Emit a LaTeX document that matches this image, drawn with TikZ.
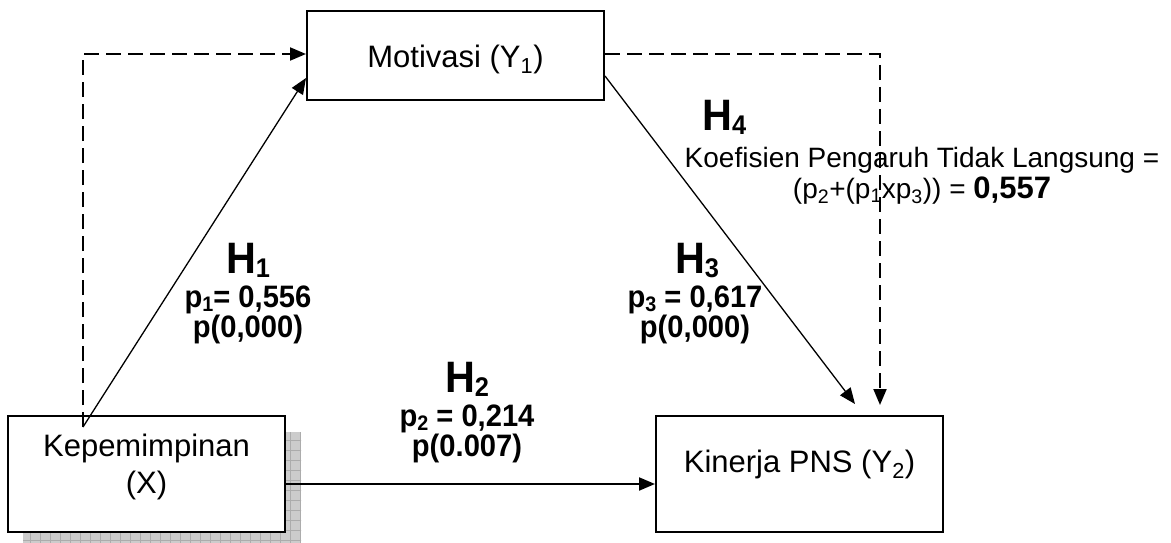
\documentclass[tikz,border=0pt]{standalone}
\usepackage{fontspec}
\usepackage{graphicx}
\setmainfont{Liberation Sans}
\usetikzlibrary{arrows.meta}
\newcommand{\condtxt}[1]{\scalebox{0.94}[1]{#1}}
\newcommand{\hsubx}[1]{\raisebox{-4pt}{\fontsize{27}{27}\selectfont #1}}
\newcommand{\psubx}[1]{\raisebox{-4pt}{\fontsize{21}{21}\selectfont #1}}
\begin{document}
\begin{tikzpicture}[x=1pt,y=-1pt,
  box/.style={draw,line width=2pt,fill=white,inner sep=0pt},
  boxtext/.style={font=\fontsize{31}{37}\selectfont,align=center,inner sep=0pt},
  hlab/.style={font=\fontsize{44}{48}\bfseries\selectfont,inner sep=0pt,anchor=base},
  plab/.style={font=\fontsize{31}{34}\bfseries\selectfont,inner sep=0pt,anchor=base},
  ktext/.style={font=\fontsize{28}{32}\selectfont,inner sep=0pt,anchor=base},
  tip/.style={-{Triangle[length=16pt,width=13pt]}},
  thinconn/.style={tip,line width=1.3pt},
  thickconn/.style={tip,line width=2pt},
  dconn/.style={tip,line width=2pt,dash pattern=on 15pt off 7pt}]
\useasboundingbox[fill=white] (0,0) rectangle (1171,543);
% shadow
\fill[gray!40] (23,432) rectangle (301,548);
\begin{scope}
\clip (23,432) rectangle (301,548);
\draw[gray!65,line width=0.6pt,step=10pt] (13,422) grid (311,558);
\end{scope}
% boxes
\node[box,minimum width=277pt,minimum height=116pt] (kep) at (146.5,474) {};
\node[box,minimum width=297pt,minimum height=89pt] (mot) at (455.5,55.5) {};
\node[box,minimum width=287pt,minimum height=116pt] (kin) at (799.5,474) {};
% box texts
\node[boxtext] (kept) at (146.5,467) {Kepemimpinan\\(X)};
\node[boxtext,anchor=base] (mott) at (455.5,67) {Motivasi (Y\textsubscript{1})};
\node[boxtext,anchor=base] (kint) at (799.5,472) {Kinerja PNS (Y\textsubscript{2})};
% connectors
\coordinate (s) at (83,427);
\draw[dconn] (s) |- ([yshift=1.5pt]mot.west);
\draw[thinconn] (s) -- ([yshift=-22.5pt]mot.west);
\draw[thickconn] ([yshift=-10pt]kep.east) -- ([yshift=-10pt]kin.west);
\draw[thinconn] ([yshift=-20.5pt]mot.east) -- ([xshift=55.5pt,yshift=11pt]kin.north);
\draw[dconn] ([yshift=1.5pt]mot.east) -| ([xshift=80.5pt,yshift=10pt]kin.north);
% labels
\node[hlab] (h1) at (248,273) {\condtxt{H\hsubx{1}}};
\node[plab] (p1) at (248,307) {\condtxt{p\psubx{1}= 0,556}};
\node[plab] (q1) at (248,337) {\condtxt{p(0,000)}};
\node[hlab] (h3) at (697,273) {\condtxt{H\hsubx{3}}};
\node[plab] (p3) at (695,307) {\condtxt{p\psubx{3} = 0,617}};
\node[plab] (q3) at (695,337) {\condtxt{p(0,000)}};
\node[hlab] (h2) at (467,392) {\condtxt{H\hsubx{2}}};
\node[plab] (p2) at (467,426) {\condtxt{p\psubx{2} = 0,214}};
\node[plab] (q2) at (467,456) {\condtxt{p(0.007)}};
\node[hlab,anchor=base west] (h4) at (702,131) {\condtxt{H\hsubx{4}}};
\node[ktext] (k1) at (922,167) {Koefisien Pengaruh Tidak Langsung =};
\node[ktext] (k2) at (922,198) {(p\textsubscript{2}+(p\textsubscript{1}xp\textsubscript{3})) = {\fontsize{31}{32}\bfseries\selectfont 0,557}};
\end{tikzpicture}
\end{document}
